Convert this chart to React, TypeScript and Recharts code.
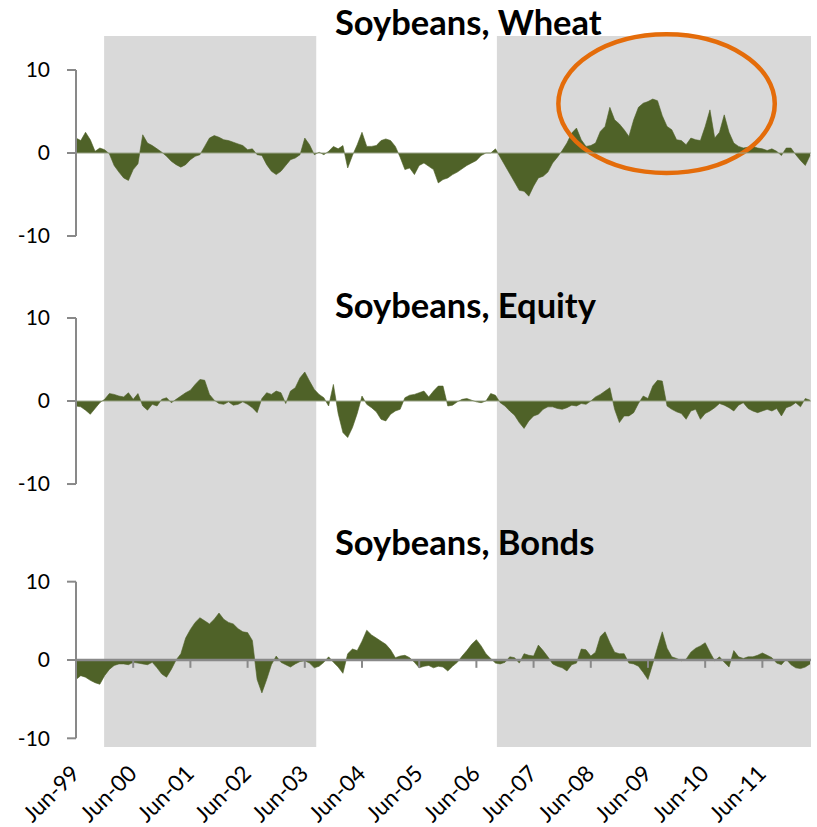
import { ComposedChart, Area, XAxis, YAxis, ReferenceArea, ReferenceLine } from "recharts";

// months since Jun-99 (index 0) through Apr-12 (index 154)
const junTicks = [0, 12, 24, 36, 48, 60, 72, 84, 96, 108, 120, 132, 144];
const junLabels = [
  "Jun-99", "Jun-00", "Jun-01", "Jun-02", "Jun-03", "Jun-04", "Jun-05",
  "Jun-06", "Jun-07", "Jun-08", "Jun-09", "Jun-10", "Jun-11",
];

// shaded periods, in months since Jun-99
const shadedPeriods = [
  { from: 5.9, to: 50.4 },
  { from: 88.3, to: 154.2 },
];

const wheat = [
  1.8, 1.5, 2.5, 1.6, 0.2, 0.6, 0.4, -0.1, -1.5, -2.3,
  -3.0, -3.3, -2.0, -1.3, 2.2, 1.2, 0.9, 0.5, 0.1, -0.4,
  -1.0, -1.4, -1.7, -1.4, -0.8, -0.4, -0.2, 0.8, 1.8, 2.1,
  1.9, 1.6, 1.5, 1.3, 1.1, 0.9, 0.4, 0.5, -0.2, -0.3,
  -1.4, -2.2, -2.6, -2.2, -1.5, -0.8, -0.6, -0.2, 1.8, 1.0,
  -0.2, 0.1, -0.2, 0.2, 0.8, 0.5, 0.9, -1.8, -0.3, 1.0,
  2.5, 0.8, 0.8, 0.9, 1.5, 1.7, 1.5, 0.8, -0.5, -2.0,
  -1.8, -2.6, -1.5, -1.2, -1.6, -2.0, -3.6, -3.2, -3.0, -2.6,
  -2.3, -1.9, -1.5, -1.2, -0.9, -0.3, 0.0, 0.0, 0.5, -0.5,
  -1.5, -2.5, -3.5, -4.5, -4.6, -5.2, -4.0, -3.0, -2.8, -2.3,
  -1.2, -0.5, 0.3, 1.2, 2.4, 3.0, 1.6, 0.8, 0.9, 1.2,
  2.6, 3.2, 5.5, 4.0, 3.5, 2.8, 2.0, 4.0, 5.5, 6.0,
  6.2, 6.5, 6.3, 4.5, 3.2, 2.8, 1.6, 1.5, 1.0, 1.8,
  1.6, 1.5, 3.2, 5.2, 1.8, 2.5, 4.6, 2.5, 1.2, 0.8,
  0.6, 0.7, 0.8, 0.6, 0.5, 0.3, 0.5, 0.2, -0.3, 0.6,
  0.6, -0.2, -0.9, -1.5, -0.3,
];

const equity = [
  -0.6, -0.7, -1.1, -1.6, -0.9, -0.2, 0.2, 0.9, 0.8, 0.6,
  0.5, 1.0, 0.2, 0.9, -0.6, -1.1, -0.4, -0.6, 0.2, 0.4,
  -0.2, 0.2, 0.6, 1.0, 1.3, 2.0, 2.6, 2.5, 0.8, 0.1,
  -0.3, -0.4, -0.1, -0.5, -0.4, -0.1, -0.4, -0.8, -1.4, 0.3,
  1.0, 0.8, 1.2, 1.0, -0.3, 1.2, 1.6, 2.8, 3.5, 2.4,
  1.4, 0.8, 0.4, -0.6, 2.0, -1.5, -3.8, -4.4, -3.2, -1.5,
  0.6, -0.4, -0.8, -1.3, -2.2, -2.4, -1.6, -1.2, -1.0, 0.4,
  0.7, 0.8, 1.0, 1.2, 0.5, 1.2, 1.8, 1.8, -0.6, -0.5,
  -0.1, 0.2, 0.3, 0.1, -0.1, -0.2, 0.0, 0.9, 0.7, -0.2,
  -0.6, -1.2, -1.7, -2.6, -3.3, -2.4, -1.8, -1.6, -1.0, -0.7,
  -0.7, -0.9, -1.0, -0.8, -0.5, -0.6, -0.3, -0.4, 0.0, 0.5,
  0.8, 1.2, 1.6, -1.0, -2.6, -1.8, -1.8, -1.4, -0.3, 0.6,
  0.3, 1.8, 2.5, 2.4, -0.6, -1.0, -1.3, -1.5, -2.2, -1.2,
  -1.0, -2.2, -1.5, -1.2, -0.8, -0.3, -0.5, -0.8, -1.2, -0.5,
  -0.2, -0.9, -1.2, -1.4, -1.2, -1.0, -1.2, -0.9, -1.8, -0.8,
  -0.6, -0.2, -0.7, 0.3, 0.1,
];

const bonds = [
  -2.5, -2.0, -2.2, -2.6, -2.9, -3.1, -2.0, -1.2, -0.7, -0.5,
  -0.5, -0.6, -0.3, -0.4, -0.5, -0.6, -0.3, -1.0, -1.8, -2.2,
  -1.2, 0.0, 0.8, 2.8, 3.9, 4.8, 5.4, 5.0, 4.6, 5.2,
  6.0, 5.2, 4.8, 4.6, 4.0, 3.6, 3.5, 2.5, -2.5, -4.2,
  -2.5, -0.6, 0.5, -0.3, -0.6, -0.9, -0.5, -0.2, -0.1, -0.4,
  -1.0, -0.8, -0.3, 0.4, -0.3, -0.9, -1.7, 0.8, 1.4, 1.2,
  2.4, 3.8, 3.2, 2.8, 2.4, 2.0, 1.3, 0.3, 0.5, 0.6,
  0.3, -0.3, -1.0, -0.8, -0.7, -1.0, -0.8, -0.9, -1.4, -0.8,
  -0.3, 0.5, 1.2, 2.0, 2.6, 1.8, 0.8, 0.2, -0.4, -0.5,
  -0.3, 0.4, 0.3, -0.4, 0.8, 0.6, 0.5, 1.9, 1.2, 0.4,
  -0.5, -0.8, -1.0, -1.4, -0.6, -0.4, 1.4, 1.3, 0.5, 1.0,
  3.0, 3.6, 2.2, 1.0, 0.8, 0.8, -0.4, -0.5, -0.8, -1.6,
  -2.5, -0.5, 1.6, 3.6, 1.5, 0.4, 0.2, -0.1, 0.1, 1.0,
  1.5, 1.8, 2.2, 1.0, -0.1, 0.4, -0.3, -0.9, 1.2, 0.4,
  0.2, 0.4, 0.4, 0.6, 0.9, 0.6, 0.3, -0.4, -0.6, 0.1,
  -0.6, -1.0, -1.1, -0.9, -0.5,
];

const data = wheat.map((w, i) => ({ t: i, wheat: w, equity: equity[i], bonds: bonds[i] }));

const GREEN = "#4f6228";
const AXIS_GREY = "#898989";
const FONT = "Lato, 'Open Sans', sans-serif";

function JunTick({ x, y, payload }: any) {
  const label = junLabels[junTicks.indexOf(payload.value)];
  const tx = x + 5;
  const ty = y + 28;
  return (
    <text x={tx} y={ty} transform={`rotate(-45 ${tx} ${ty})`} textAnchor="end" fontSize={22.5} fontFamily={FONT} fill="#000">
      {label}
    </text>
  );
}

function Ellipse(props: any) {
  const { x, y, width, height } = props;
  return (
    <ellipse cx={x + width / 2} cy={y + height / 2} rx={width / 2} ry={height / 2} fill="none" stroke="#e46c0a" strokeWidth={4.5} />
  );
}

interface PanelProps {
  dataKey: string;
  top: number;
  height: number;
  marginTop: number;
  domain: [number, number];
  showDates?: boolean;
  highlight?: boolean;
}

function Panel({ dataKey, top, height, marginTop, domain, showDates, highlight }: PanelProps) {
  return (
    <div style={{ position: "absolute", left: 0, top }}>
      <ComposedChart width={817} height={height} data={data} margin={{ top: marginTop, right: 6, bottom: 0, left: 0 }}>
        {shadedPeriods.map((p) => (
          <ReferenceArea key={p.from} x1={p.from} x2={p.to} fill="#d9d9d9" fillOpacity={1} stroke="none" ifOverflow="hidden" />
        ))}
        <XAxis
          type="number"
          dataKey="t"
          domain={[0, 154.2]}
          allowDataOverflow
          ticks={junTicks}
          hide={!showDates}
          height={80}
          axisLine={false}
          tickLine={false}
          tickSize={0}
          tickMargin={0}
          interval={0}
          tick={<JunTick />}
        />
        <YAxis
          type="number"
          domain={domain}
          allowDataOverflow
          ticks={[-10, 0, 10]}
          width={76}
          axisLine={false}
          tickLine={{ stroke: AXIS_GREY, strokeWidth: 2 }}
          tickSize={9}
          tickMargin={17}
          tick={{ fill: "#000", fontSize: 21, fontFamily: FONT }}
        />
        {!showDates && <ReferenceLine y={0} stroke="#9aa58a" strokeWidth={1} />}
        <Area
          type="linear"
          dataKey={dataKey}
          baseValue={0}
          stroke={GREEN}
          strokeWidth={0.6}
          fill={GREEN}
          fillOpacity={1}
          dot={false}
          activeDot={false}
          isAnimationActive={false}
        />
        <ReferenceLine segment={[{ x: 0, y: -10 }, { x: 0, y: 10 }]} stroke={AXIS_GREY} strokeWidth={2} />
        {showDates && <ReferenceLine y={0} stroke={AXIS_GREY} strokeWidth={2.5} />}
        {showDates &&
          junTicks.slice(1).map((t) => (
            <ReferenceLine key={t} segment={[{ x: t, y: 0 }, { x: t, y: -1 }]} stroke={AXIS_GREY} strokeWidth={2} />
          ))}
        {highlight && (
          <ReferenceArea x1={101.2} x2={146.6} y1={-2.4} y2={14.3} ifOverflow="visible" shape={<Ellipse />} />
        )}
      </ComposedChart>
    </div>
  );
}

export default function App() {
  return (
    <div style={{ position: "absolute", left: 0, top: 0, width: 817, height: 827, background: "#fff" }}>
      <Panel dataKey="wheat" top={0} height={280} marginTop={36} domain={[-15.3, 14.1]} highlight />
      <Panel dataKey="equity" top={280} height={255} marginTop={0} domain={[-16.14, 14.58]} />
      <Panel dataKey="bonds" top={535} height={292} marginTop={0} domain={[-11.11, 15.96]} showDates />
      <svg width={817} height={827} style={{ position: "absolute", left: 0, top: 0, pointerEvents: "none" }}>
        <g fontFamily={FONT} fontWeight={700} fontSize={34.5} fill="#000">
          <text x={335} y={35}>Soybeans, Wheat</text>
          <text x={335} y={318}>Soybeans, Equity</text>
          <text x={335} y={555}>Soybeans, Bonds</text>
        </g>
      </svg>
    </div>
  );
}
